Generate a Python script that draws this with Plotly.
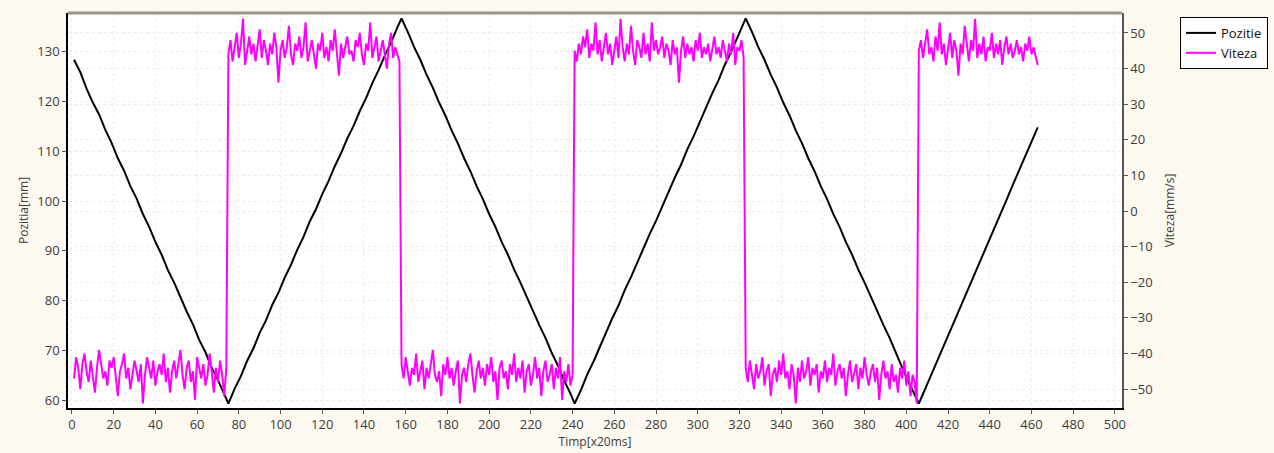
import plotly.graph_objects as go

# ---------------- data ----------------
# Position [mm] samples (time in x20ms units)
pos_t = [1, 4, 7, 10, 13, 16, 19, 22, 25, 28, 31, 34, 37, 40, 43, 46, 49, 52, 55, 58, 61, 64, 67, 70, 73, 75,
         78, 81, 84, 87, 90, 93, 96, 99, 102, 105, 108, 111, 114, 117, 120, 123, 126, 129, 132, 135, 138, 141, 144, 147, 150, 153, 156, 158,
         161, 164, 167, 170, 173, 176, 179, 182, 185, 188, 191, 194, 197, 200, 203, 206, 209, 212, 215, 218, 221, 224, 227, 230, 233, 236, 239, 241,
         244, 247, 250, 253, 256, 259, 262, 265, 268, 271, 274, 277, 280, 283, 286, 289, 292, 295, 298, 301, 304, 307, 310, 313, 316, 319, 322, 323,
         326, 329, 332, 335, 338, 341, 344, 347, 350, 353, 356, 359, 362, 365, 368, 371, 374, 377, 380, 383, 386, 389, 392, 395, 398, 401, 404, 406,
         409, 412, 415, 418, 421, 424, 427, 430, 433, 436, 439, 442, 445, 448, 451, 454, 457, 460, 463]
pozitie = [128.4, 125.9, 122.6, 119.8, 117.4, 114.3, 111.7, 108.6, 106.1, 103.0, 100.5, 97.4, 94.8, 91.8, 89.2, 86.1, 83.6, 80.6, 77.8, 75.2, 72.1, 69.6, 66.5, 64.0, 61.2, 59.3,
           62.3, 64.8, 67.9, 70.4, 73.5, 76.0, 79.1, 81.6, 84.6, 87.2, 90.2, 92.8, 95.9, 98.4, 101.4, 104.0, 107.0, 109.6, 112.6, 115.1, 118.1, 120.7, 123.7, 126.3, 129.3, 131.9, 134.9, 136.7,
           134.0, 131.0, 128.4, 125.4, 122.8, 119.8, 117.2, 114.2, 111.6, 108.6, 106.0, 103.0, 100.4, 97.4, 94.8, 91.8, 89.2, 86.2, 83.6, 80.7, 78.1, 75.1, 72.5, 69.5, 66.9, 63.9, 61.3, 59.3,
           62.0, 65.1, 67.7, 70.7, 73.4, 76.4, 79.0, 82.1, 84.7, 87.7, 90.4, 93.4, 96.0, 99.0, 101.7, 104.7, 107.3, 110.4, 113.0, 116.0, 118.7, 121.7, 124.3, 127.4, 130.0, 133.0, 135.7, 136.7,
           134.0, 131.0, 128.4, 125.4, 122.8, 119.8, 117.2, 114.2, 111.6, 108.6, 106.0, 103.0, 100.4, 97.4, 94.8, 91.8, 89.2, 86.2, 83.6, 80.7, 78.1, 75.1, 72.5, 69.4, 66.5, 63.7, 61.0, 59.3,
           62.2, 65.1, 68.1, 71.0, 73.9, 76.8, 79.8, 82.7, 85.6, 88.5, 91.5, 94.4, 97.3, 100.2, 103.2, 106.1, 109.0, 111.9, 114.8]

# Speed [mm/s], one sample per time step 1..463
viteza_t = list(range(1, 464))
viteza = [
    # low 1..74
    -47, -41, -44, -50, -43, -40, -45, -48, -42, -46,
    -51, -44, -39, -43, -47, -45, -49, -42, -44, -41,
    -46, -52, -45, -43, -40, -47, -44, -50, -46, -42,
    -45, -48, -43, -54, -46, -41, -44, -47, -42, -49,
    -45, -43, -46, -40, -48, -44, -51, -45, -42, -47,
    -43, -39, -46, -50, -44, -42, -48, -45, -53, -41,
    -44, -47, -43, -49, -46, -40, -45, -51, -44, -48,
    -42, -46, -52, -44,
    # high 75..157
    44, 48, 42, 46, 50, 43, 47, 54, 41, 45,
    49, 44, 47, 42, 46, 51, 43, 48, 45, 41,
    47, 44, 50, 46, 36, 45, 48, 43, 46, 52,
    44, 41, 47, 45, 49, 43, 46, 53, 42, 45,
    48, 44, 40, 47, 45, 50, 43, 46, 42, 48,
    45, 51, 44, 38, 47, 43, 46, 49, 44, 45,
    42, 48, 46, 50, 44, 41, 47, 45, 53, 43,
    46, 49, 42, 45, 48, 44, 40, 47, 50, 43,
    46, 44, 42,
    # low 158..240
    -43, -47, -41, -45, -49, -44, -46, -40, -48, -45,
    -42, -50, -44, -47, -43, -39, -46, -48, -45, -52,
    -43, -46, -41, -47, -44, -49, -45, -42, -54, -46,
    -44, -48, -43, -40, -46, -51, -45, -42, -47, -44,
    -49, -43, -46, -41, -48, -45, -53, -44, -42, -47,
    -45, -50, -43, -46, -40, -48, -44, -47, -42, -51,
    -45, -43, -49, -46, -41, -47, -44, -52, -45, -42,
    -48, -46, -43, -50, -44, -47, -41, -53, -45, -48,
    -43, -49, -46,
    # high 241..322
    45, 42, 47, 44, 49, 46, 51, 43, 47, 45,
    53, 44, 48, 42, 46, 50, 44, 47, 41, 45,
    49, 43, 54, 46, 42, 47, 44, 52, 45, 41,
    48, 46, 43, 50, 44, 47, 42, 53, 45, 48,
    44, 46, 49, 43, 47, 45, 41, 48, 44, 46,
    36, 45, 49, 43, 47, 44, 46, 42, 48, 45,
    50, 43, 46, 44, 47, 42, 45, 49, 44, 46,
    43, 48, 45, 42, 47, 44, 50, 41, 46, 45,
    48, 43,
    # low 323..405
    -44, -48, -42, -46, -50, -43, -47, -45, -41, -49,
    -45, -43, -52, -46, -44, -48, -42, -46, -40, -47,
    -45, -50, -43, -46, -54, -44, -48, -42, -47, -45,
    -41, -49, -44, -46, -43, -51, -45, -47, -42, -48,
    -44, -46, -40, -49, -45, -43, -47, -44, -52, -46,
    -42, -48, -45, -43, -50, -44, -47, -41, -46, -49,
    -45, -43, -48, -44, -53, -46, -42, -47, -45, -50,
    -43, -48, -46, -51, -44, -47, -42, -49, -45, -52,
    -46, -48, -54,
    # high 406..463
    45, 48, 43, 47, 51, 44, 46, 42, 49, 45,
    53, 44, 47, 41, 46, 50, 43, 48, 45, 38,
    47, 44, 52, 46, 42, 48, 45, 54, 43, 47,
    44, 49, 42, 46, 45, 50, 43, 47, 44, 48,
    41, 46, 49, 44, 47, 43, 45, 48, 44, 46,
    42, 47, 45, 49, 44, 46, 43, 41,
]

x_ticks = list(range(0, 501, 20))
left_ticks = [60, 70, 80, 90, 100, 110, 120, 130]
right_ticks = [-50, -40, -30, -20, -10, 0, 10, 20, 30, 40, 50]

FONT = "Open Sans"
TICKCOL = "#3c3c3c"
GRIDCOL = "#ececec"
BG = "#fdf9f0"

fig = go.Figure()
fig.add_trace(go.Scatter(x=pos_t, y=pozitie, name="Pozitie", mode="lines",
                         line=dict(color="#000000", width=2), yaxis="y"))
fig.add_trace(go.Scatter(x=viteza_t, y=viteza, name="Viteza", mode="lines",
                         line=dict(color="#ff00ff", width=2), yaxis="y2"))

fig.update_layout(
    width=1274, height=453,
    paper_bgcolor=BG,
    plot_bgcolor="#ffffff",
    margin=dict(l=68, r=152, t=13, b=45, autoexpand=False),
    font=dict(family=FONT, size=13, color=TICKCOL),
    showlegend=True,
    legend=dict(x=1.055, y=0.99, xanchor="left", yanchor="top",
                bgcolor="#ffffff", bordercolor="#000000", borderwidth=1,
                font=dict(family=FONT, size=13, color="#111111"),
                tracegroupgap=0, itemwidth=30),
    xaxis=dict(range=[-1.9, 503.4], tickmode="array", tickvals=x_ticks, automargin=False,
               showgrid=True, gridcolor=GRIDCOL, griddash="dot", gridwidth=1,
               zeroline=False, showline=True, linecolor="#000000", linewidth=1.5,
               ticks="outside", ticklen=4, tickcolor="#555555",
               tickfont=dict(family=FONT, size=13, color=TICKCOL),
               title=dict(text="Timp[x20ms]", font=dict(family=FONT, size=12, color=TICKCOL), standoff=0)),
    yaxis=dict(range=[58.4, 137.8], tickmode="array", tickvals=left_ticks, automargin=False,
               showgrid=True, gridcolor=GRIDCOL, griddash="dot", gridwidth=1,
               zeroline=False, showline=True, linecolor="#000000", linewidth=1.5,
               ticks="outside", ticklen=4, tickcolor="#555555",
               tickfont=dict(family=FONT, size=13, color=TICKCOL),
               title=dict(text="Pozitia[mm]", font=dict(family=FONT, size=12, color=TICKCOL), standoff=6)),
    yaxis2=dict(range=[-55.3, 55.6], tickmode="array", tickvals=right_ticks, automargin=False,
                overlaying="y", side="right",
                showgrid=True, gridcolor=GRIDCOL, griddash="dot", gridwidth=1,
                zeroline=False, showline=True, linecolor="#555555", linewidth=1.5,
                ticks="outside", ticklen=4, tickcolor="#555555",
                tickfont=dict(family=FONT, size=13, color=TICKCOL),
                title=dict(text="Viteza[mm/s]", font=dict(family=FONT, size=12, color=TICKCOL), standoff=14)),
    shapes=[dict(type="line", xref="paper", yref="paper", x0=0, x1=1, y0=1, y1=1,
                 line=dict(color="#9a948a", width=3))],
)

fig.write_html(
    "out.html",
    config={"displayModeBar": False},
    post_script=f"document.body.style.margin='0';document.body.style.background='{BG}';document.body.style.overflow='hidden';",
)
